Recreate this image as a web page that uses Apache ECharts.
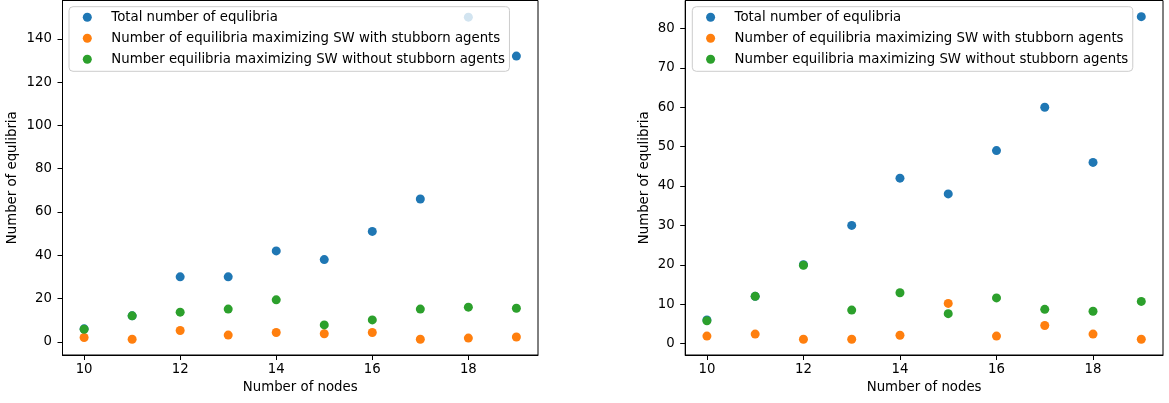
<!DOCTYPE html>
<html>
<head>
<meta charset="utf-8">
<script src="https://cdn.jsdelivr.net/npm/echarts@6/dist/echarts.min.js"></script>
<style>
html,body{margin:0;padding:0;background:#fff;}
#chart{width:1169px;height:403px;}
</style>
</head>
<body>
<div id="chart"></div>
<script>
// ---- data ----
const nodes = [10, 11, 12, 13, 14, 15, 16, 17, 18, 19];

const leftTotal    = [6, 12, 30, 30, 42, 38, 51, 66, 150, 132];
const leftWith     = [2.0, 1.2, 5.2, 3.1, 4.3, 3.7, 4.3, 1.2, 1.7, 2.2];
const leftWithout  = [5.8, 12, 13.7, 15.1, 19.4, 7.8, 10.1, 15.1, 16, 15.5];

const rightTotal   = [6, 12, 20, 30, 42, 38, 49, 60, 46, 83];
const rightWith    = [1.9, 2.4, 1.1, 1.1, 2.1, 10.2, 1.9, 4.6, 2.4, 1.1];
const rightWithout = [5.8, 12, 19.9, 8.5, 12.9, 7.6, 11.6, 8.7, 8.2, 10.7];

const xTicks = [10, 12, 14, 16, 18];
const yTicksLeft = [0, 20, 40, 60, 80, 100, 120, 140];
const yTicksRight = [0, 10, 20, 30, 40, 50, 60, 70, 80];

const seriesNames = [
  'Total number of equlibria',
  'Number of equilibria maximizing SW with stubborn agents',
  'Number equilibria maximizing SW without stubborn agents'
];
const colors = ['#1f77b4', '#ff7f0e', '#2ca02c'];

// ---- chart ----
const FONT = 'DejaVu Sans';
const FS = 13.3;
const zip = (xs, ys) => xs.map((x, i) => [x, ys[i]]);

function xAxisCfg(gridIndex) {
  return {
    gridIndex, type: 'value', min: 9.55, max: 19.45,
    name: 'Number of nodes', nameLocation: 'middle', nameGap: 25,
    nameTextStyle: {fontFamily: FONT, fontSize: FS, color: '#000'},
    axisLine: {show: true, onZero: false, lineStyle: {color: '#000', width: 1}},
    axisTick: {show: true, length: 5, lineStyle: {color: '#000'}, customValues: xTicks},
    axisLabel: {show: true, margin: 8, fontFamily: FONT, fontSize: FS, color: '#000', customValues: xTicks},
    splitLine: {show: false}
  };
}
function yAxisCfg(gridIndex, min, max, ticks, gap) {
  return {
    gridIndex, type: 'value', min, max,
    name: 'Number of equlibria', nameLocation: 'middle', nameGap: gap,
    nameTextStyle: {fontFamily: FONT, fontSize: FS, color: '#000'},
    axisLine: {show: true, onZero: false, lineStyle: {color: '#000', width: 1}},
    axisTick: {show: true, length: 5, lineStyle: {color: '#000'}, customValues: ticks},
    axisLabel: {show: true, margin: 10.5, fontFamily: FONT, fontSize: FS, color: '#000', customValues: ticks},
    splitLine: {show: false}
  };
}
function legendCfg(left) {
  return {
    orient: 'vertical', left, top: 6.7,
    data: seriesNames,
    icon: 'circle', itemWidth: 9, itemHeight: 9, itemGap: 5,
    padding: [2.6, 4.5, 4, 13.8],
    backgroundColor: 'rgba(255,255,255,0.8)',
    borderColor: '#cccccc', borderWidth: 1, borderRadius: 4,
    textStyle: {fontFamily: FONT, fontSize: FS, color: '#000', lineHeight: 16, padding: [0, 0, 0, 14.5]},
    selectedMode: false
  };
}
function scatter(name, data, idx, color) {
  return {
    type: 'scatter', name, data, xAxisIndex: idx, yAxisIndex: idx,
    symbol: 'circle', symbolSize: 9,
    itemStyle: {color, opacity: 1},
    emphasis: {disabled: true}, animation: false
  };
}

const chart = echarts.init(document.getElementById('chart'), null, {renderer: 'canvas'});
chart.setOption({
  backgroundColor: '#fff',
  animation: false,
  grid: [
    {left: 62.5, top: 0.5, width: 475.5, height: 354.5, show: true, borderColor: '#000', borderWidth: 1, containLabel: false},
    {left: 685.2, top: 0.5, width: 477.8, height: 354.5, show: true, borderColor: '#000', borderWidth: 1, containLabel: false}
  ],
  xAxis: [xAxisCfg(0), xAxisCfg(1)],
  yAxis: [yAxisCfg(0, -6.1, 157.7, yTicksLeft, 43), yAxisCfg(1, -2.9, 87.1, yTicksRight, 34)],
  legend: [legendCfg(69), legendCfg(692.3)],
  series: [
    scatter(seriesNames[0], zip(nodes, leftTotal), 0, colors[0]),
    scatter(seriesNames[1], zip(nodes, leftWith), 0, colors[1]),
    scatter(seriesNames[2], zip(nodes, leftWithout), 0, colors[2]),
    scatter(seriesNames[0], zip(nodes, rightTotal), 1, colors[0]),
    scatter(seriesNames[1], zip(nodes, rightWith), 1, colors[1]),
    scatter(seriesNames[2], zip(nodes, rightWithout), 1, colors[2])
  ]
});
</script>
</body>
</html>
